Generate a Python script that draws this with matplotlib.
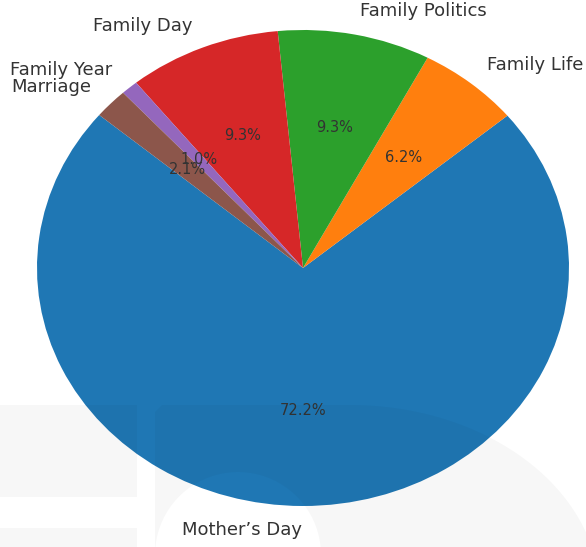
import numpy as np
import matplotlib
matplotlib.use('Agg')
import matplotlib.pyplot as plt
from matplotlib.path import Path
from matplotlib.patches import PathPatch

plt.rcParams['font.family'] = ['DejaVu Sans']

# Topic counts
labels = ['Mother’s Day', 'Family Life', 'Family Politics', 'Family Day', 'Family Year', 'Marriage']
counts = [70, 6, 9, 9, 1, 2]

W, H = 586, 547
fig = plt.figure(figsize=(W / 100, H / 100), dpi=100)
ax = fig.add_axes([0, 0, 1, 1])

wedges, texts, autotexts = ax.pie(counts, labels=labels, autopct='%1.1f%%', startangle=140,
                                  textprops={'color': '#333333'})
for t in texts:
    t.set_fontsize(13)
for t in autotexts:
    t.set_fontsize(10.5)

# stretch the pie to the same oval as the original
cx, cy, rx, ry = 303, 268, 266, 238
ax.set_aspect('auto')
ax.set_xlim(-cx / rx, (W - cx) / rx)
ax.set_ylim(-(H - cy) / ry, cy / ry)
ax.axis('off')


# faint watermark in the background (pixel coords, origin top-left)
def to_fig(pts):
    pts = np.asarray(pts, dtype=float)
    return np.column_stack([pts[:, 0] / W, 1 - pts[:, 1] / H])


def ring(pts, ccw=True):
    pts = np.asarray(pts, dtype=float)
    area = np.sum(pts[:-1, 0] * pts[1:, 1] - pts[1:, 0] * pts[:-1, 1])
    if (area > 0) != ccw:
        pts = pts[::-1]
    return Path(np.vstack([pts, pts[:1]]), closed=True)


rect1 = to_fig([(-5, 405), (137, 405), (137, 497), (-5, 497)])
rect2 = to_fig([(-5, 528), (137, 528), (137, 560), (-5, 560)])
t = np.linspace(np.pi / 2, -0.2, 60)
arc = np.column_stack([350 + 250 * np.cos(t), 595 - 190 * np.sin(t)])
big = to_fig(np.vstack([[(155, 560), (155, 412), (162, 405)], arc, [(620, 560)]]))
a = np.linspace(0, 2 * np.pi, 80, endpoint=False)
hole = to_fig(np.column_stack([238 + 83 * np.cos(a), 555 + 83 * np.sin(a)]))

wm = Path.make_compound_path(ring(rect1), ring(rect2), ring(big), ring(hole, ccw=False))
fig.patches.append(PathPatch(wm, transform=fig.transFigure, fc='black', ec='none', alpha=0.03, zorder=10))

fig.savefig('out.png', dpi=100)
